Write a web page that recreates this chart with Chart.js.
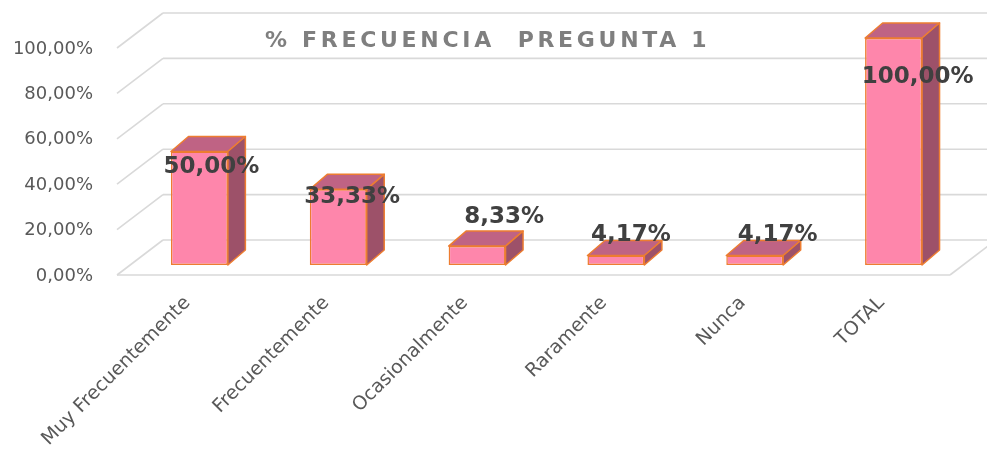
<!DOCTYPE html>
<html><head><meta charset="utf-8">
<script src="https://cdn.jsdelivr.net/npm/chart.js@4/dist/chart.umd.min.js"></script>
<style>html,body{margin:0;padding:0;background:#fff}</style>
</head><body>
<canvas id="c" width="987" height="456"></canvas>
<script>
const TITLE = '% FRECUENCIA  PREGUNTA 1';
const categories = ['Muy Frecuentemente', 'Frecuentemente', 'Ocasionalmente', 'Raramente', 'Nunca', 'TOTAL'];
const percentValues = [50, 33.33, 8.33, 4.17, 4.17, 100];
const yTickValues = [0, 20, 40, 60, 80, 100];

// styling (3D projection offsets, label nudges)
const BACK = {dx: 33, dy: -25};
const FRONT = {dx: -13, dy: 10};
const DEPTH = {dx: 17.5, dy: -15};
const LABEL_DX = [12, 14, 27, 15, 23, 24];
const LABEL_DY = [16, 8, -29, -21, -21, 39];

const fmt = v => v.toFixed(2).replace('.', ',') + '%';

const threeD = {
  id: 'threeD',
  beforeDatasetsDraw(chart) {
    const {ctx, chartArea: ca, scales: {y}} = chart;
    ctx.save();
    ctx.strokeStyle = '#d9d9d9';
    ctx.lineWidth = 1.6;
    const line = (a, b, c, d) => { ctx.beginPath(); ctx.moveTo(a, b); ctx.lineTo(c, d); ctx.stroke(); };
    yTickValues.forEach(v => {
      const py = y.getPixelForValue(v);
      line(ca.left + BACK.dx, py + BACK.dy, ca.right + BACK.dx, py + BACK.dy);
      line(ca.left + FRONT.dx, py + FRONT.dy, ca.left + BACK.dx, py + BACK.dy);
    });
    const p0 = y.getPixelForValue(0);
    line(ca.left + FRONT.dx, p0 + FRONT.dy, ca.right + FRONT.dx, p0 + FRONT.dy);
    line(ca.right + FRONT.dx, p0 + FRONT.dy, ca.right + BACK.dx, p0 + BACK.dy);
    ctx.restore();
  },
  afterDatasetsDraw(chart) {
    const {ctx} = chart;
    const meta = chart.getDatasetMeta(0);
    ctx.save();
    ctx.lineJoin = 'round';
    meta.data.forEach(bar => {
      const x0 = bar.x - bar.width / 2, x1 = bar.x + bar.width / 2, t = bar.y, b = bar.base;
      ctx.strokeStyle = '#ED7D31';
      ctx.lineWidth = 1.5;
      ctx.beginPath();
      ctx.moveTo(x0, t); ctx.lineTo(x1, t); ctx.lineTo(x1 + DEPTH.dx, t + DEPTH.dy); ctx.lineTo(x0 + DEPTH.dx, t + DEPTH.dy); ctx.closePath();
      ctx.fillStyle = '#BF6384'; ctx.fill(); ctx.stroke();
      ctx.beginPath();
      ctx.moveTo(x1, t); ctx.lineTo(x1 + DEPTH.dx, t + DEPTH.dy); ctx.lineTo(x1 + DEPTH.dx, b + DEPTH.dy); ctx.lineTo(x1, b); ctx.closePath();
      ctx.fillStyle = '#9D5169'; ctx.fill(); ctx.stroke();
    });
    ctx.font = 'bold 23px "DejaVu Sans"';
    ctx.fillStyle = '#404040';
    ctx.textAlign = 'center';
    ctx.textBaseline = 'middle';
    meta.data.forEach((bar, i) => {
      ctx.fillText(fmt(percentValues[i]), bar.x + LABEL_DX[i], bar.y + LABEL_DY[i]);
    });
    ctx.restore();
  },
  afterDraw(chart) {
    const {ctx} = chart;
    ctx.save();
    ctx.font = 'bold 22px "DejaVu Sans"';
    ctx.fillStyle = '#7f7f7f';
    try { ctx.letterSpacing = '3.7px'; } catch (e) {}
    ctx.textAlign = 'left';
    ctx.textBaseline = 'middle';
    ctx.fillText(TITLE, 265, 41);
    ctx.restore();
  }
};

new Chart(document.getElementById('c'), {
  type: 'bar',
  data: {
    labels: categories,
    datasets: [{
      data: percentValues,
      backgroundColor: '#FE86AB',
      borderColor: '#ED7D31',
      borderWidth: 1.5,
      borderSkipped: false,
      categoryPercentage: 1,
      barPercentage: 0.41
    }]
  },
  options: {
    responsive: false,
    animation: false,
    devicePixelRatio: 1,
    layout: {padding: {top: 38, right: 24, left: 0, bottom: 0}},
    plugins: {legend: {display: false}, tooltip: {enabled: false}, title: {display: false, text: TITLE}},
    scales: {
      x: {
        grid: {display: false},
        border: {display: false},
        ticks: {
          minRotation: 45, maxRotation: 45, autoSkip: false,
          color: '#595959', font: {family: 'DejaVu Sans', size: 19}, padding: 19, labelOffset: -12
        },
        afterFit(s) { s.height = 191; s.paddingLeft = 0; s.paddingRight = 0; s.paddingTop = 0; s.paddingBottom = 0; }
      },
      y: {
        min: 0, max: 100,
        grid: {display: false, drawTicks: false},
        border: {display: false},
        ticks: {
          stepSize: 20, color: '#595959', font: {family: 'DejaVu Sans', size: 18},
          padding: 37, labelOffset: 11, callback: v => fmt(v)
        },
        afterFit(s) { s.width = 130; s.paddingTop = 0; s.paddingBottom = 0; s.paddingLeft = 0; s.paddingRight = 0; }
      }
    }
  },
  plugins: [threeD]
});
</script>
</body></html>
